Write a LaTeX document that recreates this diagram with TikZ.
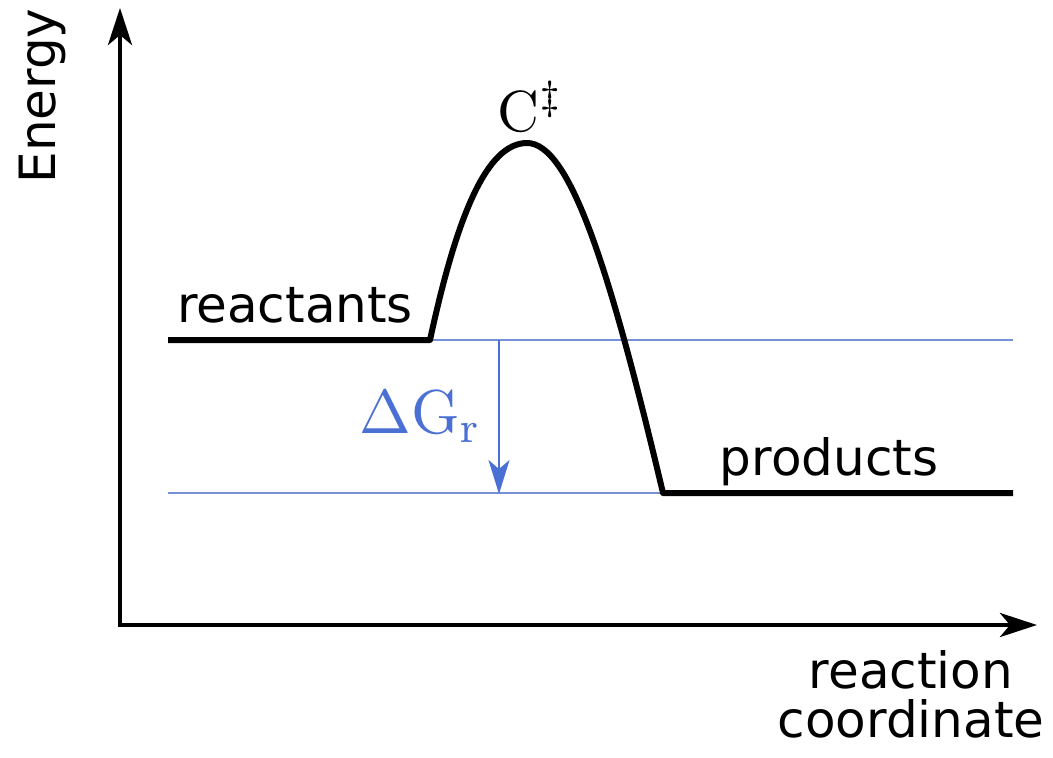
\documentclass[tikz,border=0pt]{standalone}
\usepackage{fontspec}
\newfontfamily\labelfont{DejaVu Sans}
\usetikzlibrary{arrows.meta}
\definecolor{gline}{RGB}{118,145,214}
\definecolor{gtext}{RGB}{74,112,212}
\tikzset{
  axis/.style={line width=4.5pt, -{Stealth[length=37pt,width=24pt,inset=10pt]}},
  curve/.style={line width=6pt, line join=round},
  level/.style={line width=1.6pt, draw=gline},
  dgarrow/.style={line width=1.6pt, draw=gline, -{Stealth[length=34pt,width=21pt,inset=9pt]}, color=gtext},
  lbl/.style={font=\labelfont\fontsize{50}{49}\selectfont, inner sep=0pt},
  mlbl/.style={inner sep=0pt}
}
\begin{document}
\begin{tikzpicture}[x=1pt,y=-1pt]
\useasboundingbox (0,0) rectangle (1053,758);
% coordinates
\coordinate (O) at (120,625);
\coordinate (Ytop) at (120,8);
\coordinate (Xend) at (1037,625);
\coordinate (R0) at (168,340);
\coordinate (R1) at (430,340);
\coordinate (TS) at (527,143);
\coordinate (P0) at (663,493);
\coordinate (P1) at (1013,493);
\coordinate (Rend) at (1013,340);
\coordinate (Pstart) at (168,493);
\coordinate (Gtop) at (499,340);
\coordinate (Gbot) at (499,494);
% blue reference levels
\draw[level] (R1) -- (Rend);
\draw[level] (Pstart) -- (P0);
\draw[dgarrow] (Gtop) -- (Gbot);
% axes
\draw[axis] ([yshift=2pt]O) -- (Ytop);
\draw[axis] ([xshift=-2pt]O) -- (Xend);
% energy profile
\draw[curve] (R0) -- (R1)
  .. controls (457,215) and (487,143) .. (TS)
  .. controls (570,143) and (610,270) .. (P0) -- (P1);
% labels
\node[lbl, rotate=90] (energy) at (42,96) {Energy};
\node[lbl, anchor=base] (reactants) at (295,322) {reactants};
\node[lbl, anchor=base] (products) at (829,475) {products};
\node[lbl, align=center, anchor=base] (rc) at (911,737) {reaction\\coordinate};
\node[mlbl, anchor=base, scale=5.8] (ts) at (531,131) {$\mathrm{C}^{\ddagger}$};
\node[mlbl, anchor=base, scale=6.2, text=gtext] (dg) at (421,433) {$\Delta\mathrm{G}_{\mathrm{r}}$};
\end{tikzpicture}
\end{document}
